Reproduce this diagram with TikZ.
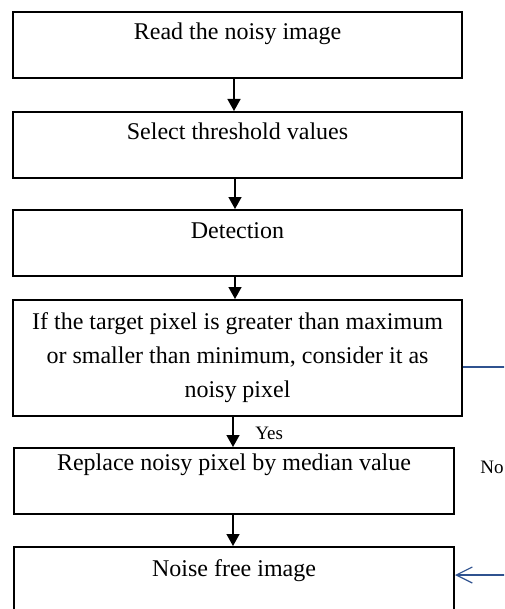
\documentclass[tikz,border=0pt]{standalone}
\usepackage{fontspec}
\setmainfont{Liberation Serif}
\usetikzlibrary{arrows.meta,positioning}
\definecolor{lineblue}{RGB}{47,82,143}

\begin{document}
\begin{tikzpicture}[x=0.5pt,y=-0.5pt]
\tikzstyle{stepbox} = [draw,line width=1pt,inner sep=0pt,minimum width=224.5pt,text height=14pt,text depth=19pt,font=\fontsize{12}{17}\selectfont];
\tikzstyle{bigbox} = [draw,line width=1pt,inner sep=0pt,minimum width=224.5pt,minimum height=58pt,align=center,font=\fontsize{12}{17}\selectfont];
\tikzstyle{arr} = [line width=0.75pt,-{Triangle[width=6.5pt,length=6pt]}];
\tikzstyle{noarr} = [line width=0.6pt,color=lineblue,-{Straight Barb[width=8pt,length=8pt]}];
\tikzstyle{tag} = [font=\fontsize{9.5}{11}\selectfont,inner sep=0pt,anchor=base west];
\useasboundingbox (0,0) rectangle (504,609);
\clip (0,0) rectangle (504,609);
\node [stepbox] (read) at (237.5,45) {Read the noisy image};
\node [stepbox] (thresh) at (237.5,145) {Select threshold values};
\node [stepbox] (detect) at (237.5,243) {Detection};
\node [bigbox] (check) at (237.5,358) {If the target pixel is greater than maximum\\or smaller than minimum, consider it as\\noisy pixel};
\node [stepbox,minimum width=220pt,text height=11pt,text depth=22pt] (replace) at (234,481) {Replace noisy pixel by median value};
\node [stepbox,minimum width=220pt,text height=14.5pt,text depth=18.5pt] (free) at (234,580) {Noise free image};
\node [tag] (yes) at (255,439) {Yes};
\node [tag] (no) at (480,473) {No};

\draw [arr] ([xshift=-1.75pt]read.south) -- ([xshift=-1.75pt]thresh.north);
\draw [arr] ([xshift=-1.25pt]thresh.south) -- ([xshift=-1.25pt]detect.north);
\draw [arr] ([xshift=-1.25pt]detect.south) -- ([xshift=-1.25pt]check.north);
\draw [arr] ([xshift=-0.5pt]check.south -| replace) -- ([xshift=-0.5pt]replace.north);
\draw [arr] ([xshift=-0.5pt]replace.south) -- ([xshift=-0.5pt]free.north);
\draw [noarr] ([yshift=-4.5pt]check.east) -- ([yshift=-4.5pt,xshift=30pt]check.east) |- ([yshift=2.5pt]free.east);
\end{tikzpicture}
\end{document}
